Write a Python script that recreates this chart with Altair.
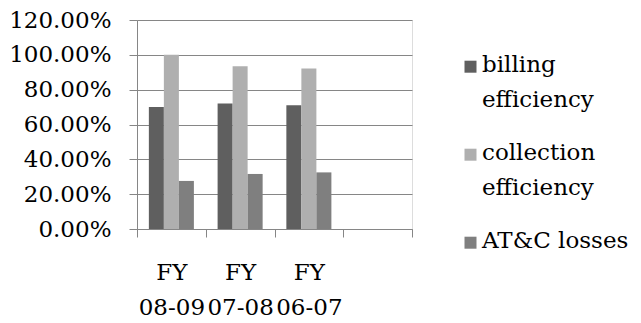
import altair as alt
import pandas as pd

categories = ["FY 08-09", "FY 07-08", "FY 06-07"]
x_domain = categories + [""]
series = ["billing efficiency", "collection efficiency", "AT&C losses"]
billing = [0.70, 0.72, 0.71]
collection = [1.00, 0.935, 0.922]
atc = [0.276, 0.316, 0.325]
colors = ["#5f5f5f", "#afafaf", "#7f7f7f"]
y_ticks = [0, 0.2, 0.4, 0.6, 0.8, 1.0, 1.2]

rows = []
for s, vals in zip(series, [billing, collection, atc]):
    for c, v in zip(categories, vals):
        rows.append({"cat": c, "series": s, "value": v})
df = pd.DataFrame(rows)

FONT = "DejaVu Serif"
FS = 23

chart = alt.Chart(df).mark_bar().encode(
    x=alt.X("cat:N", sort=x_domain,
            scale=alt.Scale(domain=x_domain, paddingInner=0, paddingOuter=0),
            axis=alt.Axis(title=None, labelAngle=0, tickBand="extent",
                          labelExpr="split(datum.label, ' ')",
                          labelLineHeight=35, labelPadding=24, tickSize=8,
                          labelFont=FONT, labelFontSize=FS, labelColor="#000000",
                          domainColor="#868686", tickColor="#868686",
                          grid=False, labelBaseline="top")),
    xOffset=alt.XOffset("series:N", sort=series,
                        scale=alt.Scale(domain=series, paddingInner=0, paddingOuter=0.79)),
    y=alt.Y("value:Q", scale=alt.Scale(domain=[0, 1.2], nice=False),
            axis=alt.Axis(title=None, values=y_ticks, format=".2%",
                          labelFont=FONT, labelFontSize=FS, labelColor="#000000",
                          labelPadding=18, tickSize=8, tickColor="#868686",
                          domainColor="#868686", gridColor="#868686", gridWidth=1.2)),
    color=alt.Color("series:N", sort=series,
                    scale=alt.Scale(domain=series, range=colors),
                    legend=alt.Legend(title=None, orient="none", legendX=322, legendY=40,
                                      labelFont=FONT, labelFontSize=FS, labelColor="#000000",
                                      labelBaseline="alphabetic", labelLimit=400,
                                      labelOffset=0, rowPadding=29, padding=0,
                                      symbolType="M-1,-1.8H1V0.2H-1Z", symbolSize=144,
                                      symbolStrokeWidth=0,
                                      labelExpr="datum.label == 'AT&C losses' ? datum.label : split(datum.label, ' ')")),
).properties(
    width=275, height=209,
    autosize=alt.AutoSizeParams(type="none"),
    padding={"left": 137, "top": 20, "right": 229, "bottom": 94},
).configure_view(stroke=None).configure(
    background="white",
    font=FONT,
    style={"guide-label": {"lineHeight": 35, "font": FONT, "fontSize": FS, "fill": "#000000"}},
)

chart.save("out.html", embed_options={"renderer": "svg", "actions": False})
